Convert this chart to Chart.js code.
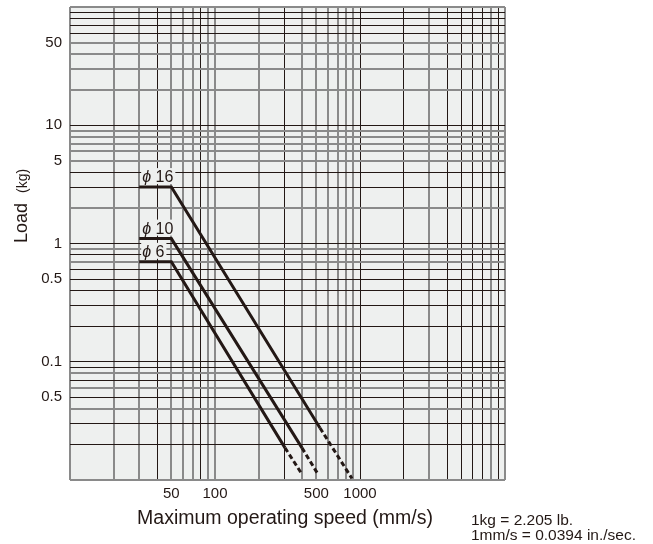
<!DOCTYPE html>
<html>
<head>
<meta charset="utf-8">
<script src="https://cdn.jsdelivr.net/npm/chart.js@4.4.1/dist/chart.umd.min.js"></script>
<style>
  html, body { margin: 0; padding: 0; background: #fff; }
  #wrap { position: relative; width: 653px; height: 544px; }
</style>
</head>
<body>
<div id="wrap"><canvas id="grafico" width="653" height="544"></canvas></div>
<script>
// --- values (speed mm/s, load kg); last segment is dashed
const phi16Speed = [30, 50, 530, 880];
const phi16Load  = [3, 3, 0.0275, 0.0103];
const phi10Speed = [30, 50, 398, 513];
const phi10Load  = [1.1, 1.1, 0.0187, 0.0112];
const phi6Speed  = [30, 50, 304, 398];
const phi6Load   = [0.7, 0.7, 0.0187, 0.0112];
const seriesNames = ["16", "10", "6"];

// --- grid lines and labelled ticks
const xGrid = [10,20,30,40,50,60,70,80,90,100,200,300,400,500,600,700,800,900,1000,
               2000,3000,4000,5000,6000,7000,8000,9000,10000];
const xTickValues = [50, 100, 500, 1000];
const xTickLabels = ["50", "100", "500", "1000"];
const yGrid = [0.01,0.02,0.03,0.04,0.05,0.06,0.07,0.08,0.09,0.1,0.2,0.3,0.4,0.5,0.6,0.7,0.8,0.9,
               1,2,3,4,5,6,7,8,9,10,20,30,40,50,60,70,80,90,100];
const yTickValues = [50, 10, 5, 1, 0.5, 0.1, 0.05];
const yTickLabels = ["50", "10", "5", "1", "0.5", "0.1", "0.5"];
// lines that look grey/wider in the scan
const xGreyLines = [10,20,30,50,60,70,90,100,200,400,500,600,700,800,900,3000,8000,10000];
const yGreyLines = [100,50,40,30,20,9,8,7,6,5,2,0.9,0.7,0.08,0.06,0.04,0.01];

const INK = "#231815";
const GREY = "#8a8a8a";
const PLOT_BG = "#eef0ef";
const FONT = "'Liberation Sans', Arial, sans-serif";

function toPoints(xs, ys) {
    return xs.map((x, i) => ({ x: x, y: ys[i] }));
}

function serie(xs, ys) {
    return {
        data: toPoints(xs, ys),
        showLine: true,
        borderColor: INK,
        borderWidth: 3,
        pointRadius: 0,
        borderCapStyle: "butt",
        segment: { borderDash: ctx => ctx.p0DataIndex === 2 ? [5, 3] : undefined }
    };
}

function labelFor(values, labels) {
    return value => {
        const i = values.indexOf(value);
        return i >= 0 ? labels[i] : "";
    };
}

// --- plot background
const fundo = {
    id: "fundo",
    beforeDraw(chart) {
        const a = chart.chartArea, c = chart.ctx;
        c.save();
        c.fillStyle = PLOT_BG;
        c.fillRect(a.left, a.top, a.right - a.left, a.bottom - a.top);
        c.restore();
    }
};

// --- phi labels, axis titles and unit note
const textos = {
    id: "textos",
    afterDatasetsDraw(chart) {
        const c = chart.ctx;
        const xs = chart.scales.x, ys = chart.scales.y;
        c.save();
        c.fillStyle = INK;
        chart.data.datasets.forEach((ds, i) => {
            const px = xs.getPixelForValue(ds.data[0].x) + 3;
            const py = ys.getPixelForValue(ds.data[0].y) - 5;
            c.font = "italic 16px " + FONT;
            const wPhi = c.measureText("ϕ").width;
            c.font = "16px " + FONT;
            const wNum = c.measureText(" " + seriesNames[i]).width;
            c.fillStyle = PLOT_BG;
            c.fillRect(px - 1, py - 14, wPhi + wNum + 3, 16);
            c.fillStyle = INK;
            c.font = "italic 16px " + FONT;
            c.fillText("ϕ", px, py);
            c.font = "16px " + FONT;
            c.fillText(" " + seriesNames[i], px + wPhi, py);
        });

        // y title
        c.save();
        c.translate(27, 243);
        c.rotate(-Math.PI / 2);
        c.textAlign = "left";
        c.font = "18px " + FONT;
        c.fillText("Load", 0, 0);
        const wLoad = c.measureText("Load").width;
        c.font = "14px " + FONT;
        c.fillText("(kg)", wLoad + 10, 0);
        c.restore();

        // x title
        c.textAlign = "center";
        c.font = "19.5px " + FONT;
        c.fillText("Maximum operating speed (mm/s)", 285, 524);

        // note
        c.textAlign = "left";
        c.font = "15.5px " + FONT;
        c.fillText("1kg = 2.205 lb.", 471, 525);
        c.fillText("1mm/s = 0.0394 in./sec.", 471, 540);
        c.restore();
    }
};

new Chart(document.getElementById("grafico").getContext("2d"), {
    type: "scatter",
    data: {
        datasets: [
            serie(phi16Speed, phi16Load),
            serie(phi10Speed, phi10Load),
            serie(phi6Speed, phi6Load)
        ]
    },
    options: {
        responsive: false,
        animation: false,
        layout: { padding: { left: 0, right: 148, top: 7, bottom: 0 } },
        plugins: { legend: { display: false }, tooltip: { enabled: false } },
        scales: {
            x: {
                type: "logarithmic",
                min: 10,
                max: 10000,
                afterBuildTicks: s => { s.ticks = xGrid.map(v => ({ value: v })); },
                afterFit: s => { s.height = 64; s.paddingLeft = 0; s.paddingRight = 0; },
                grid: {
                    drawTicks: false,
                    color: ctx => xGreyLines.includes(ctx.tick.value) ? GREY : INK,
                    lineWidth: ctx => xGreyLines.includes(ctx.tick.value) ? 2 : 1
                },
                border: { display: false },
                ticks: {
                    autoSkip: false,
                    maxRotation: 0,
                    padding: 5,
                    color: INK,
                    font: { family: FONT, size: 15 },
                    callback: labelFor(xTickValues, xTickLabels)
                }
            },
            y: {
                type: "logarithmic",
                min: 0.01,
                max: 100,
                afterBuildTicks: s => { s.ticks = yGrid.map(v => ({ value: v })); },
                afterFit: s => { s.width = 70; s.paddingTop = 0; s.paddingBottom = 0; },
                grid: {
                    drawTicks: false,
                    color: ctx => yGreyLines.includes(ctx.tick.value) ? GREY : INK,
                    lineWidth: ctx => yGreyLines.includes(ctx.tick.value) ? 2 : 1
                },
                border: { display: false },
                ticks: {
                    autoSkip: false,
                    padding: 8,
                    color: INK,
                    font: { family: FONT, size: 15 },
                    callback: labelFor(yTickValues, yTickLabels)
                }
            }
        }
    },
    plugins: [fundo, textos]
});
</script>
</body>
</html>
